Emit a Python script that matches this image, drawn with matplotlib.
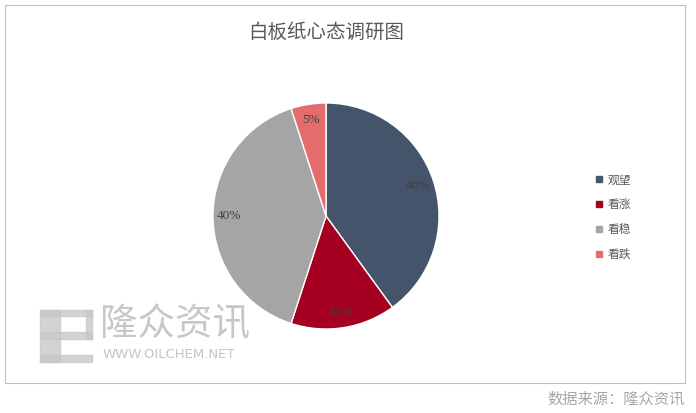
import matplotlib
matplotlib.use('Agg')
import matplotlib.pyplot as plt
from matplotlib.patches import Rectangle

plt.rcParams['font.family'] = ['Noto Sans CJK SC', 'DejaVu Sans']

labels = ["观望", "看涨", "看稳", "看跌"]
shares = [40, 15, 40, 5]
colors = ["#44546A", "#A50021", "#A5A5A5", "#E46C6C"]
title = "白板纸心态调研图"
source = "数据来源：隆众资讯"

fig = plt.figure(figsize=(6.96, 4.13), dpi=100)
W, H = 696, 413

# outer frame
fig.patches.append(Rectangle((5 / W, 1 - 383 / H), 680 / W, 378 / H,
                             transform=fig.transFigure, fill=False,
                             edgecolor="#BFBFBF", linewidth=0.8))

# pie axis: centre (326, 216), radius ~113 px
r = 113
ax = fig.add_axes([(326 - r) / W, 1 - (216 + r) / H, 2 * r / W, 2 * r / H])
wedges, texts, autotexts = ax.pie(
    shares, colors=colors, startangle=90, counterclock=False,
    autopct="%d%%", pctdistance=0.86,
    wedgeprops=dict(edgecolor="white", linewidth=1.0))
for t in autotexts:
    t.set_family(["Liberation Serif"])
    t.set_fontsize(9.5)
    t.set_color("#404040")
ax.set_xlim(-1, 1)
ax.set_ylim(-1, 1)
ax.set_aspect("equal")

# watermark
wm = dict(transform=fig.transFigure, color="#C8C8C8", alpha=0.8, zorder=5)
fig.patches.append(Rectangle((40 / W, 1 - 362 / H), 20 / W, 52 / H, **wm))
fig.patches.append(Rectangle((40 / W, 1 - 316 / H), 52 / W, 6 / H, **wm))
fig.patches.append(Rectangle((40 / W, 1 - 362 / H), 52 / W, 7 / H, **wm))
fig.patches.append(Rectangle((40 / W, 1 - 339 / H), 52 / W, 7 / H, **wm))
fig.patches.append(Rectangle((86 / W, 1 - 339 / H), 6 / W, 29 / H, **wm))
fig.text(100 / W, 1 - 325 / H, "隆众资讯", fontsize=27, color="#BEBEBE",
         alpha=0.85, va="center", ha="left", zorder=6)
fig.text(103 / W, 1 - 354 / H, "WWW.OILCHEM.NET", fontsize=9.5,
         color="#BEBEBE", alpha=0.9, va="center", ha="left",
         family=["DejaVu Sans"], zorder=6)

# title
fig.text(326 / W, 1 - 32 / H, title, fontsize=14, color="#595959",
         ha="center", va="center")

# legend
handles = [plt.Line2D([], [], marker="s", linestyle="none", markersize=5,
                      color=c) for c in colors]
fig.legend(handles, labels, loc="center left",
           bbox_to_anchor=(584 / W, 1 - 217 / H), frameon=False,
           fontsize=8.5, labelspacing=1.0, handletextpad=0.3,
           handlelength=0.8, labelcolor="#595959")

# source
fig.text(685 / W, 1 - 399 / H, source, fontsize=11, color="#A6A6A6",
         ha="right", va="center")

fig.savefig("out.png", dpi=100)
